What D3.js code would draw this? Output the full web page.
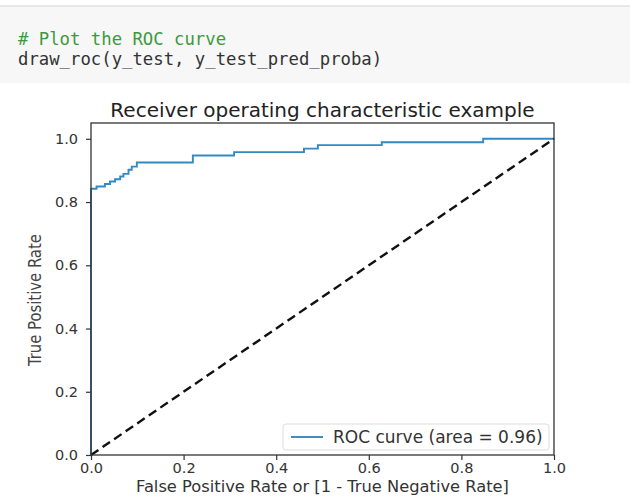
<!DOCTYPE html>
<html>
<head>
<meta charset="utf-8">
<script src="https://cdn.jsdelivr.net/npm/d3@7"></script>
<style>
body { margin:0; background:#fff; }
svg { display:block; }
</style>
</head>
<body>
<svg id="chart" width="630" height="497"></svg>
<script>
// roc points
var fpr = [0, 0, 0.012, 0.030, 0.041, 0.052, 0.063, 0.070, 0.081, 0.088, 0.099, 0.22, 0.309, 0.46, 0.49, 0.628, 0.847, 1];
var tpr = [0, 0.842, 0.849, 0.857, 0.865, 0.872, 0.881, 0.889, 0.902, 0.912, 0.925, 0.947, 0.958, 0.969, 0.98, 0.989, 1.0, 1.0];
var xTicks = [0, 0.2, 0.4, 0.6, 0.8, 1.0];
var yTicks = [0, 0.2, 0.4, 0.6, 0.8, 1.0];
var rocArea = 0.96;
var codeLines = ["# Plot the ROC curve", "draw_roc(y_test, y_test_pred_proba)"];

var svg = d3.select("#chart");

// notebook cell
svg.append("rect").attr("x",0).attr("y",6).attr("width",630).attr("height",77)
    .attr("fill","#f7f7f7");
svg.append("line").attr("x1",0).attr("x2",630).attr("y1",6).attr("y2",6)
    .attr("stroke","#e2e2e2").attr("stroke-width",1.5);
svg.selectAll("text.code").data(codeLines).enter().append("text")
    .attr("class","code")
    .attr("x",18)
    .attr("y",function(d,i){ return 45 + i*20; })
    .attr("font-family","DejaVu Sans Mono")
    .attr("font-size","17.3px")
    .attr("fill",function(d,i){ return i == 0 ? "#3c9a3c" : "#333"; })
    .text(function(d){ return d; });

var pLeft = 91, pRight = 554, pTop = 123, pBottom = 455;
var x = d3.scaleLinear().domain([0,1]).range([pLeft,pRight]);
var y = d3.scaleLinear().domain([0,1.05]).range([pBottom,pTop]);

// roc curve
var pts = fpr.map(function(d,i){ return [d, tpr[i]]; });
var line = d3.line().x(function(d){ return x(d[0]); }).y(function(d){ return y(d[1]); }).curve(d3.curveStepAfter);
svg.append("path").datum(pts).attr("d",line)
    .attr("fill","none").attr("stroke","#3389c2").attr("stroke-width",1.9);

// chance line
svg.append("path").datum([[0,0],[1,1]]).attr("d",d3.line().x(function(d){ return x(d[0]); }).y(function(d){ return y(d[1]); }))
    .attr("fill","none").attr("stroke","#111").attr("stroke-width",2.4)
    .attr("stroke-dasharray","9,5");

// axes
var xAxis = svg.append("g").attr("transform","translate(0,"+pBottom+")")
    .call(d3.axisBottom(x).tickValues(xTicks).tickFormat(d3.format(".1f")).tickSizeOuter(0).tickSize(5).tickPadding(3));
var yAxis = svg.append("g").attr("transform","translate("+pLeft+",0)")
    .call(d3.axisLeft(y).tickValues(yTicks).tickFormat(d3.format(".1f")).tickSizeOuter(0).tickSize(5).tickPadding(8));
[xAxis, yAxis].forEach(function(g){
    g.select(".domain").remove();
    g.selectAll("line").attr("stroke","#333").attr("stroke-width",1.2);
    g.selectAll("text").attr("font-family","DejaVu Sans").attr("font-size","14.5px").attr("fill","#333");
});

svg.append("rect").attr("x",pLeft).attr("y",pTop).attr("width",pRight-pLeft).attr("height",pBottom-pTop)
    .attr("fill","none").attr("stroke","#333").attr("stroke-width",1.3);

// labels
svg.append("text").attr("x",(pLeft+pRight)/2).attr("y",117).attr("text-anchor","middle")
    .attr("font-family","DejaVu Sans").attr("font-size","20px").attr("fill","#222")
    .text("Receiver operating characteristic example");
svg.append("text").attr("x",(pLeft+pRight)/2).attr("y",492).attr("text-anchor","middle")
    .attr("font-family","DejaVu Sans").attr("font-size","16.3px").attr("fill","#333")
    .text("False Positive Rate or [1 - True Negative Rate]");
svg.append("text").attr("transform","translate(41,300) rotate(-90) scale(1,1.1)").attr("text-anchor","middle")
    .attr("font-family","Liberation Sans Narrow, DejaVu Sans Condensed").attr("font-size","16.5px").attr("fill","#444")
    .text("True Positive Rate");

// legend
var lg = svg.append("g").attr("transform","translate(283,424)");
lg.append("rect").attr("width",266).attr("height",26).attr("rx",3)
    .attr("fill","#fff").attr("stroke","#ddd");
lg.append("line").attr("x1",8).attr("x2",40).attr("y1",13).attr("y2",13)
    .attr("stroke","#3389c2").attr("stroke-width",1.9);
lg.append("text").attr("x",50).attr("y",19).attr("font-family","DejaVu Sans").attr("font-size","17px").attr("fill","#333")
    .text("ROC curve (area = " + rocArea.toFixed(2) + ")");
</script>
</body>
</html>
